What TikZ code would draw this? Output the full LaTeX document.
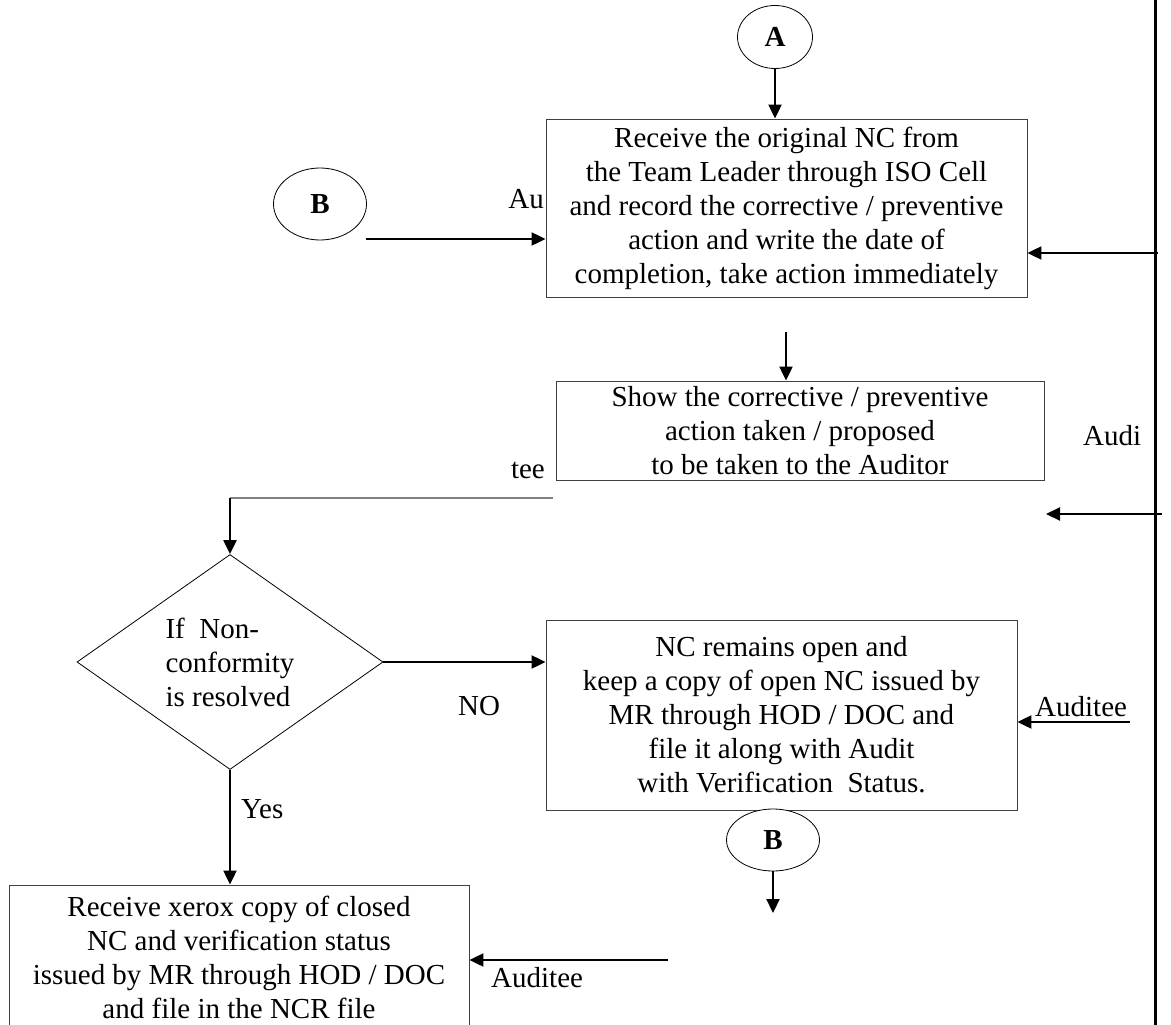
\documentclass[tikz,border=0pt]{standalone}
\usepackage{fontspec}
\setmainfont{Liberation Serif}
\usepackage{tikz}
\usetikzlibrary{arrows.meta,positioning,calc,shapes.geometric}
\definecolor{boxline}{HTML}{404040}
\definecolor{lanegray}{HTML}{808080}
\newcommand{\flowfont}{\fontsize{29}{34}\selectfont}

\begin{document}
\begin{tikzpicture}[
  x=1pt, y=-1pt,
  box/.style={draw=boxline, line width=0.9pt, fill=white, align=center, inner sep=0pt, font=\flowfont},
  decision/.style={diamond, draw=black, line width=0.8pt, aspect=1.4, align=left, inner sep=0pt, font=\flowfont},
  connector/.style={ellipse, draw=black, line width=0.8pt, fill=white, inner sep=0pt, font=\flowfont\bfseries},
  lbl/.style={inner sep=0pt, font=\flowfont},
  arrow/.style={-{Triangle[length=14pt,width=13pt]}, line width=2.2pt}
]
\useasboundingbox (0,0) rectangle (1171,1025);

% lane line on the right
\coordinate (laneTop) at (1155,0);
\coordinate (laneBot) at (1155,1025);
\draw[line width=3pt] (laneTop) -- (laneBot);

\node[connector, minimum width=75pt, minimum height=63pt] (conA) at (775,37) {A};
\node[box, minimum width=481pt, minimum height=178pt] (receive) at (786.5,208) {Receive the original NC from\\the Team Leader through ISO Cell\\and record the corrective / preventive\\action and write the date of\\completion, take action immediately};
\node[connector, minimum width=93pt, minimum height=72pt] (conBin) at (320,204) {B};
\node[box, minimum width=488pt, minimum height=99pt] (show) at (800,430.5) {Show the corrective / preventive\\action taken / proposed\\to be taken to the Auditor};
\node[decision, minimum width=306pt, minimum height=215pt] (resolved) at (230,662) {If\ \ Non-\\conformity\\is resolved};
\node[box, minimum width=471pt, minimum height=190pt] (open) at (781.5,715) {NC remains open and\\keep a copy of open NC issued by\\MR through HOD / DOC and\\file it along with Audit\\with Verification\ \ Status.};
\node[connector, minimum width=93pt, minimum height=62pt] (conBout) at (773,840) {B};
\node[box, minimum width=460pt, minimum height=145pt] (closed) at (239,957.5) {Receive xerox copy of closed\\NC and verification status\\issued by MR through HOD / DOC\\and file in the NCR file};

% labels
\node[lbl, anchor=base east] (lblAu) at (544,208) {Au};
\node[lbl, anchor=base east] (lblTee) at (545,478) {tee};
\node[lbl, anchor=base west] (lblAudi) at (1083,445) {Audi};
\node[lbl, anchor=base west] (lblNo) at (458,715) {NO};
\node[lbl, anchor=base west] (lblYes) at (241,818) {Yes};
\node[lbl, anchor=base west] (lblOpen) at (1035,716) {Auditee};
\node[lbl, anchor=base west] (lblClosed) at (491,987) {Auditee};

% free ends
\coordinate (inB) at (366,239);
\coordinate (inLane1) at (1158,253);
\coordinate (midTop) at (786,332);
\coordinate (inLane2) at (1162,514);
\coordinate (tipLane2) at (1046,514);
\coordinate (teeEnd) at (553,498);
\coordinate (inOpen) at (1130,722);
\coordinate (endB) at (775,913);
\coordinate (inClosed) at (668,960);

\draw[arrow] (conA) -- (conA |- receive.north);
\draw[arrow] (inB) -- (inB -| receive.west);
\draw[arrow] (inLane1) -- (inLane1 -| receive.east);
\draw[arrow] (midTop) -- (midTop |- show.north);
\draw[arrow] (inLane2) -- (tipLane2);
\draw[lanegray, line width=1.2pt] (teeEnd) -- (teeEnd -| resolved.north);
\draw[arrow] (teeEnd -| resolved.north) -- (resolved.north);
\draw[arrow] (resolved.east) -- (resolved.east -| open.west);
\draw[arrow] (resolved.south) -- (resolved.south |- closed.north);
\draw[arrow] (inOpen) -- (inOpen -| open.east);
\draw[arrow] (conBout.south) -- (conBout.south |- endB);
\draw[arrow] (inClosed) -- (inClosed -| closed.east);
\end{tikzpicture}
\end{document}
